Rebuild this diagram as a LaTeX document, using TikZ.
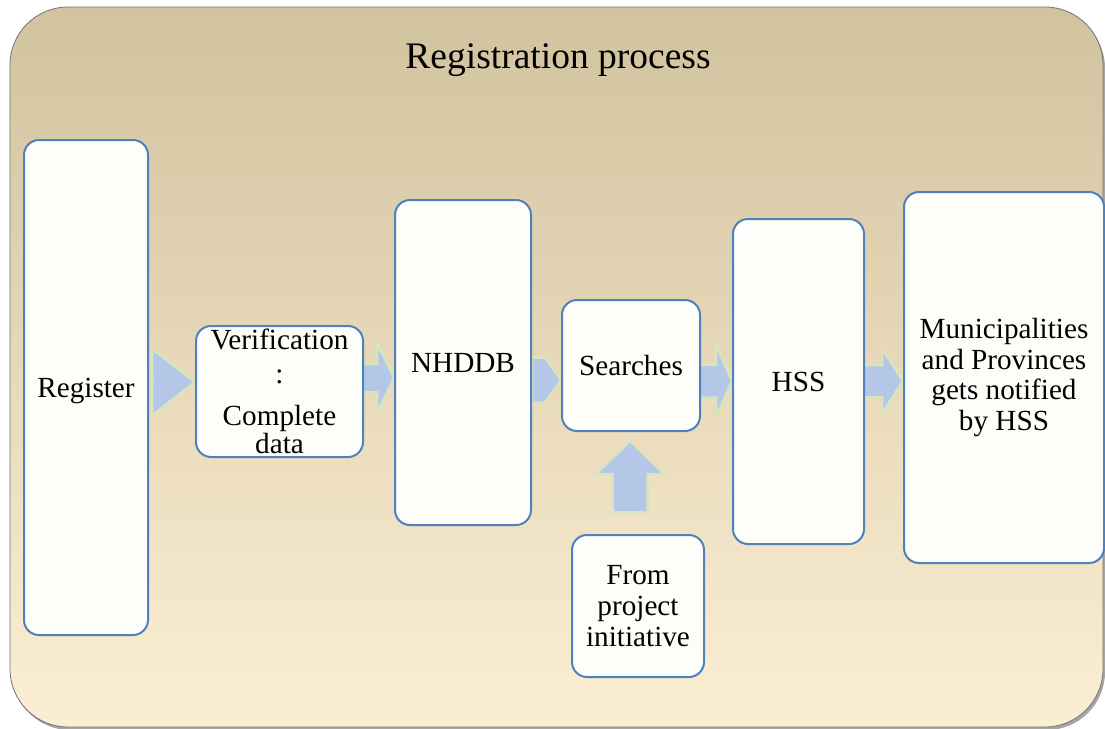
\documentclass[tikz,border=0pt]{standalone}
\usepackage{fontspec}
\setmainfont{Liberation Serif}
\usetikzlibrary{calc}
\definecolor{boxline}{HTML}{4F81BD}
\definecolor{boxfill}{HTML}{FDFDF9}
\definecolor{arrfill}{HTML}{B4C7E7}
\definecolor{arrline}{HTML}{D7E4BD}
\definecolor{bgtop}{HTML}{D1C39E}
\definecolor{bgbot}{HTML}{FCEED3}
\pgfdeclarelayer{back}
\pgfdeclarelayer{arr}
\pgfsetlayers{back,arr,main}
\tikzset{
  stepbox/.style={draw=boxline, fill=boxfill, line width=2pt, rounded corners=15pt,
    inner sep=0pt, align=center, font=\fontsize{29.2}{30.6}\selectfont},
  blockarrow/.style={fill=arrfill, draw=arrline, line width=2.5pt, line join=miter},
  framebox/.style={draw=black!55, line width=0.8pt, rounded corners=58pt,
    top color=bgtop, bottom color=bgbot},
  titletext/.style={font=\fontsize{37.5}{40}\selectfont, inner sep=0pt}
}
% #1 from anchor, #2 to anchor, #3 y, #4 shaft half, #5 head half, #6 head length, #7 start offset
\newcommand\harrowblk[7]{%
  \coordinate (t) at (#2 |- 0,#3);
  \coordinate (s) at (#1 |- 0,#3);
  \draw[blockarrow] ($(s)+(#7,-#4)$) -- ($(t)+(-#6,-#4)$) -- ($(t)+(-#6,-#5)$) -- (t)
    -- ($(t)+(-#6,#5)$) -- ($(t)+(-#6,#4)$) -- ($(s)+(#7,#4)$) -- cycle;}
\begin{document}
\begin{tikzpicture}[x=1pt,y=-1pt]
\useasboundingbox (0,0) rectangle (1105,728);
% frame
\begin{pgfonlayer}{back}
  \fill[black!35, rounded corners=58pt] (12,10) rectangle (1105,730);
  \path[framebox] (10,7) rectangle (1103,727);
\end{pgfonlayer}
\node[titletext, anchor=base] (title) at (558,68) {Registration process};
% boxes
\node[stepbox, minimum width=124pt, minimum height=495pt] (reg) at (86,387.5)
  {\raisebox{-3.5pt}[\height][\depth]{Register}};
\node[stepbox, minimum width=167pt, minimum height=131pt] (ver) at (279.5,391.5)
  {Verification\\[2.5pt]:\\[11.5pt]Complete\\[-2.5pt]data};
\node[stepbox, minimum width=136pt, minimum height=325pt] (nh) at (463,362.5) {NHDDB};
\node[stepbox, minimum width=138pt, minimum height=131pt] (srch) at (631,365.5) {Searches};
\node[stepbox, minimum width=132pt, minimum height=142pt] (from) at (638,606) {From\\project\\initiative};
\node[stepbox, minimum width=131pt, minimum height=325pt] (hss) at (798.5,381.5) {HSS};
\node[stepbox, minimum width=200pt, minimum height=371pt] (mun) at (1004,377.5)
  {Municipalities\\and Provinces\\gets notified\\by HSS};
% arrows
\begin{pgfonlayer}{arr}
  \harrowblk{reg.east}{ver.west}{382}{0}{33.5}{43}{5}
  \harrowblk{ver.east}{nh.west}{378}{14}{35.5}{17}{-3}
  \harrowblk{nh.east}{srch.west}{380}{22.5}{22.5}{16}{0}
  \harrowblk{srch.east}{hss.west}{381}{16.5}{36.5}{16}{-2}
  \harrowblk{hss.east}{mun.west}{381}{16}{32.5}{21}{-2}
  \coordinate (ut) at ($(srch.south)+(-1,9)$);
  \coordinate (ub) at ($(ut |- from.north)+(0,-22)$);
  \draw[blockarrow] (ut) -- ($(ut)+(34,33)$) -- ($(ut)+(17.5,33)$) -- ($(ub)+(17.5,0)$)
    -- ($(ub)+(-17.5,0)$) -- ($(ut)+(-17.5,33)$) -- ($(ut)+(-34,33)$) -- cycle;
\end{pgfonlayer}
\end{tikzpicture}
\end{document}
